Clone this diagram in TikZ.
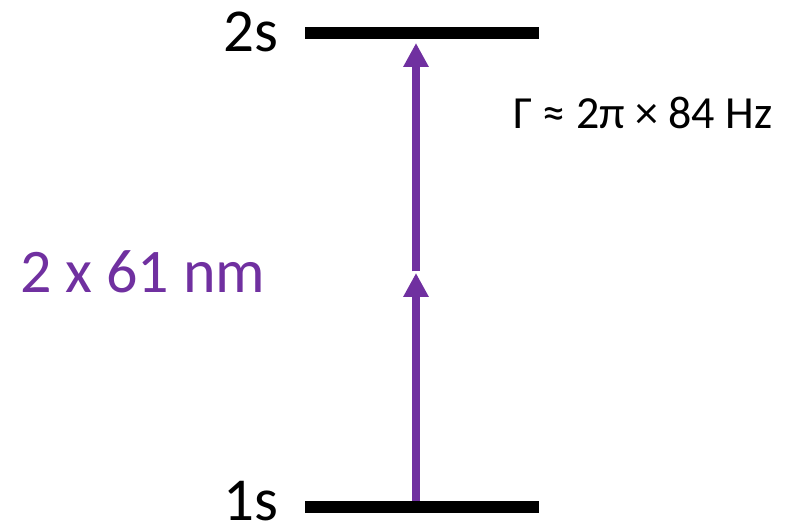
\documentclass[tikz,border=0pt]{standalone}
\usepackage{fontspec}
\setmainfont{Carlito}
\usetikzlibrary{arrows.meta}
\definecolor{lvpurple}{HTML}{7030A0}
\tikzset{
  level/.style={fill=black, inner sep=0pt, minimum width=234pt, minimum height=12pt},
  arr/.style={draw=lvpurple, line width=8pt, -{Triangle[width=24pt,length=24pt]}, shorten <=0pt},
  lab/.style={inner sep=0pt, anchor=base west},
}
\begin{document}
\begin{tikzpicture}[x=1pt,y=1pt]
\useasboundingbox (0,0) rectangle (790,526);
\node[level] (s2) at (422,493) {};
\node[level] (s1) at (422,19) {};
\node[lab, font=\fontsize{61}{61}\selectfont] (t2) at (223,474) {2s};
\node[lab, font=\fontsize{61}{61}\selectfont] (t1) at (223,5.5) {1s};
\node[lab, font=\fontsize{62}{62}\selectfont, text=lvpurple] (wl) at (20,233.3) {2 x 61 nm};
\node[lab, font=\fontsize{46}{46}\selectfont] (gam) at (513,397) {Γ ≈ 2π × 84 Hz};
\coordinate (p0) at (416,25);
\coordinate (p1) at (416,253);
\coordinate (p2) at (416,254.5);
\coordinate (p3) at (416,483);
\draw[arr] (p0) -- (p1);
\draw[arr] (p2) -- (p3);
\end{tikzpicture}
\end{document}
